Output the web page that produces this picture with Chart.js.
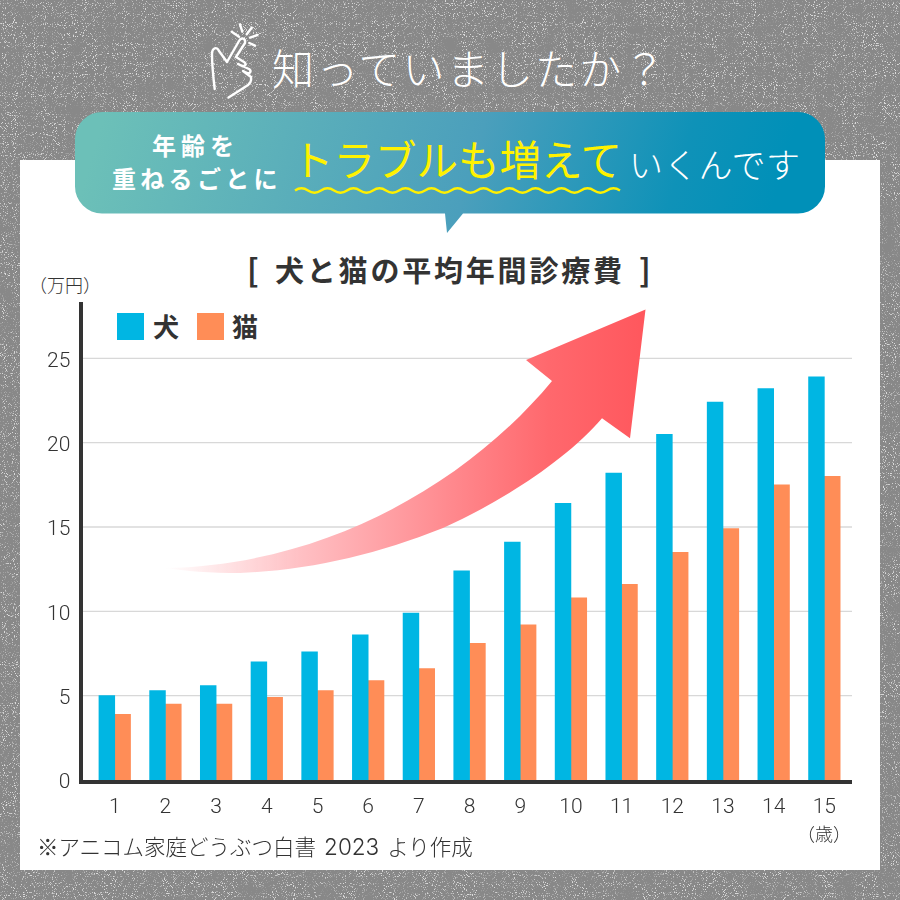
<!DOCTYPE html>
<html lang="ja">
<head>
<meta charset="utf-8">
<title>犬と猫の平均年間診療費</title>
<script src="https://cdn.jsdelivr.net/npm/chart.js@4"></script>
<style>
  html, body { margin: 0; padding: 0; }
  body { width: 900px; height: 900px; position: relative; overflow: hidden; background: #888888; font-family: "Noto Sans CJK JP", sans-serif; }
  .layer { position: absolute; left: 0; top: 0; }
  .card { position: absolute; left: 20px; top: 160px; width: 860px; height: 710px; background: #fff; }
  .txt { position: absolute; white-space: nowrap; line-height: 1; }
  .swatch { position: absolute; width: 27px; height: 27px; top: 313px; }
</style>
</head>
<body>

<!-- ざらついた背景 -->
<svg class="layer" width="900" height="900">
  <defs>
    <filter id="speckle" x="0" y="0" width="100%" height="100%">
      <feTurbulence type="fractalNoise" baseFrequency="0.9" numOctaves="1" seed="7" result="fine"/>
      <feColorMatrix in="fine" type="matrix" values="0 0 0 0 1  0 0 0 0 1  0 0 0 0 1  10 0 0 0 -5.8" result="dots"/>
      <feTurbulence type="fractalNoise" baseFrequency="0.05" numOctaves="2" seed="3" result="coarse"/>
      <feColorMatrix in="coarse" type="matrix" values="0 0 0 0 1  0 0 0 0 1  0 0 0 0 1  2.2 0 0 0 -0.35" result="patches"/>
      <feComposite in="dots" in2="patches" operator="in"/>
    </filter>
  </defs>
  <rect width="900" height="900" fill="#888888"/>
  <rect width="900" height="900" filter="url(#speckle)" opacity="0.7"/>
</svg>

<div class="card"></div>

<!-- 手のアイコン -->
<svg class="layer" width="900" height="120" fill="none" stroke="#fff" stroke-width="2.4" stroke-linecap="round" stroke-linejoin="round">
  <path d="M214.7 89C213 75 212 62 212 54C212 48 217 46 219 51L227 62L239 41C241 37 246 38 245 43L236 57L244 62C247 64 245 67 242 66L238 64L249 69C252 71 250 74 247 73L243 71L251 77C252 82 249 85 245 87L228.5 97.5"/>
  <path d="M231.7 31.7L239 36.7M240 24.3L242.3 31.7M251.7 27.7L246.7 34.3M257.3 35L250 37.7M255 45.7L249.3 43"/>
</svg>
<div class="txt" style="left:272px;top:46px;font-size:42px;letter-spacing:2.2px;font-weight:300;color:#fff">知っていましたか&#xFF1F;</div>

<!-- 吹き出し -->
<svg class="layer" width="900" height="250">
  <defs>
    <linearGradient id="bubbleFill" gradientUnits="userSpaceOnUse" x1="120" y1="60" x2="760" y2="250">
      <stop offset="0" stop-color="#6cc0b8"/>
      <stop offset="0.55" stop-color="#4b9fbc"/>
      <stop offset="0.85" stop-color="#0f92b8"/>
      <stop offset="1" stop-color="#0090b8"/>
    </linearGradient>
  </defs>
  <path fill="url(#bubbleFill)" d="M102 112H798A27 27 0 0 1 825 139V186.500A27 27 0 0 1 798 213.500H463L447 233L445 213.500H102A27 27 0 0 1 75 186.500V139A27 27 0 0 1 102 112Z"/>
  <path id="wave" fill="none" stroke="#fff000" stroke-width="2.4"/>
</svg>
<div class="txt" style="left:152px;top:133px;font-size:24px;letter-spacing:5px;font-weight:700;color:#fff">年齢を</div>
<div class="txt" style="left:112px;top:166px;font-size:24px;letter-spacing:4.300px;font-weight:700;color:#fff">重ねるごとに</div>
<div class="txt" style="left:292px;top:138px;font-size:41.500px;letter-spacing:0;font-weight:400;color:#fff200">トラブルも増えて</div>
<div class="txt" style="left:629px;top:147px;font-size:34px;letter-spacing:0.700px;font-weight:300;color:#fff">いくんです</div>

<!-- グラフ見出しと凡例 -->
<div class="txt" style="left:247px;top:253px;font-size:31px;font-weight:700;color:#333">[</div>
<div class="txt" style="left:275px;top:255px;font-size:29px;font-weight:700;color:#333;letter-spacing:2.800px;">犬と猫の平均年間診療費</div>
<div class="txt" style="left:639px;top:253px;font-size:31px;font-weight:700;color:#333">]</div>
<div class="txt" style="left:29px;top:275px;font-size:18px;font-weight:300;color:#333">&#xFF08;万円&#xFF09;</div>
<div class="swatch" id="swatchDog" style="left:117px"></div>
<div class="txt" id="labelDog" style="left:153px;top:313px;font-size:26px;font-weight:700;color:#333"></div>
<div class="swatch" id="swatchCat" style="left:196.500px"></div>
<div class="txt" id="labelCat" style="left:232px;top:313px;font-size:26px;font-weight:700;color:#333"></div>

<canvas id="costChart" class="layer" width="900" height="900"></canvas>

<!-- 右肩上がりの矢印 -->
<svg class="layer" width="900" height="900" style="pointer-events:none">
  <defs>
    <linearGradient id="arrowFill" gradientUnits="userSpaceOnUse" x1="165" y1="0" x2="645" y2="0">
      <stop offset="0" stop-color="#ffc0c4" stop-opacity="0"/>
      <stop offset="0.28" stop-color="#ffc0c4"/>
      <stop offset="0.6" stop-color="#ff888d"/>
      <stop offset="0.8" stop-color="#ff686d"/>
      <stop offset="1" stop-color="#ff575d"/>
    </linearGradient>
  </defs>
  <path fill="url(#arrowFill)" d="M165 568C330 565 470 480 552 381L526 360L645.500 309.500L630 438.300L602 418.300C565 462 495 505 443 528C375 555 310 570 240 573C210 573 185 571 165 568Z"/>
</svg>

<div class="txt" style="left:797px;top:824px;font-size:18px;font-weight:300;color:#333">&#xFF08;歳&#xFF09;</div>
<div class="txt" style="left:37px;top:835px;font-size:21.500px;font-weight:300;color:#333">※アニコム家庭どうぶつ白書<span style="font-family:Inter,sans-serif;font-size:22.500px;margin:0 8px">2023</span>より作成</div>

<script>
// 年齢(歳)
const ages = ['1', '2', '3', '4', '5', '6', '7', '8', '9', '10', '11', '12', '13', '14', '15'];
// 平均年間診療費(万円)
const dogCosts = [5.0, 5.3, 5.6, 7.0, 7.6, 8.6, 9.9, 12.4, 14.1, 16.4, 18.2, 20.5, 22.4, 23.2, 23.9];
const catCosts = [3.9, 4.5, 4.5, 4.9, 5.3, 5.9, 6.6, 8.1, 9.2, 10.8, 11.6, 13.5, 14.9, 17.5, 18.0];
const dogLabel = '犬';
const catLabel = '猫';

const dogColor = '#00b6e3';
const catColor = '#ff8d57';
const textColor = '#333333';
const lightFont = { family: 'Roboto, "Noto Sans CJK JP", sans-serif', size: 21, weight: '300' };

// 凡例
document.getElementById('swatchDog').style.background = dogColor;
document.getElementById('swatchCat').style.background = catColor;
document.getElementById('labelDog').textContent = dogLabel;
document.getElementById('labelCat').textContent = catLabel;

// 吹き出しの波線
let wave = 'M295 190.500';
for (let x = 295; x < 620; x += 13) {
    const dir = ((x - 295) / 13) % 2 === 0 ? -1 : 1;
    wave += ` Q${x + 6.500} ${190.500 + dir * 4.500} ${x + 13} 190.500`;
}
document.getElementById('wave').setAttribute('d', wave);

// 軸線と目盛線はプロット領域より外まで伸ばす
const axisLines = {
    id: 'axisLines',
    beforeDatasetsDraw(chart) {
        const { ctx, scales: { y } } = chart;
        ctx.save();
        ctx.strokeStyle = '#d8d8d8';
        ctx.lineWidth = 1.3;
        y.ticks.forEach(t => {
            if (t.value === 0) return;
            const py = y.getPixelForValue(t.value);
            ctx.beginPath();
            ctx.moveTo(83, py);
            ctx.lineTo(852, py);
            ctx.stroke();
        });
        ctx.restore();
    },
    afterDatasetsDraw(chart) {
        const { ctx, chartArea, scales: { y } } = chart;
        const zero = y.getPixelForValue(0);
        ctx.save();
        ctx.fillStyle = '#333333';
        ctx.fillRect(79, chartArea.top, 4, zero + 4 - chartArea.top);
        ctx.fillRect(79, zero, 773, 4);
        ctx.restore();
    }
};

new Chart(document.getElementById('costChart'), {
    type: 'bar',
    data: {
        labels: ages,
        datasets: [
            { label: dogLabel, data: dogCosts, backgroundColor: dogColor },
            { label: catLabel, data: catCosts, backgroundColor: catColor }
        ]
    },
    options: {
        responsive: false,
        animation: false,
        layout: { padding: { top: 302, right: 50.3, bottom: 0, left: 0 } },
        datasets: { bar: { barThickness: 15.8, borderWidth: 0 } },
        plugins: { legend: { display: false }, tooltip: { enabled: false } },
        scales: {
            x: {
                grid: { display: false, drawTicks: false },
                border: { display: false },
                ticks: { color: textColor, font: lightFont, padding: 15, maxRotation: 0 },
                afterFit: s => { s.height = 120; }
            },
            y: {
                min: 0,
                max: 28.34,
                grid: { display: false, drawTicks: false },
                border: { display: false },
                ticks: { stepSize: 5, includeBounds: false, color: textColor, font: lightFont, padding: 19, labelOffset: 3 },
                afterFit: s => { s.width = 89.4; }
            }
        }
    },
    plugins: [axisLines]
});
</script>
</body>
</html>
